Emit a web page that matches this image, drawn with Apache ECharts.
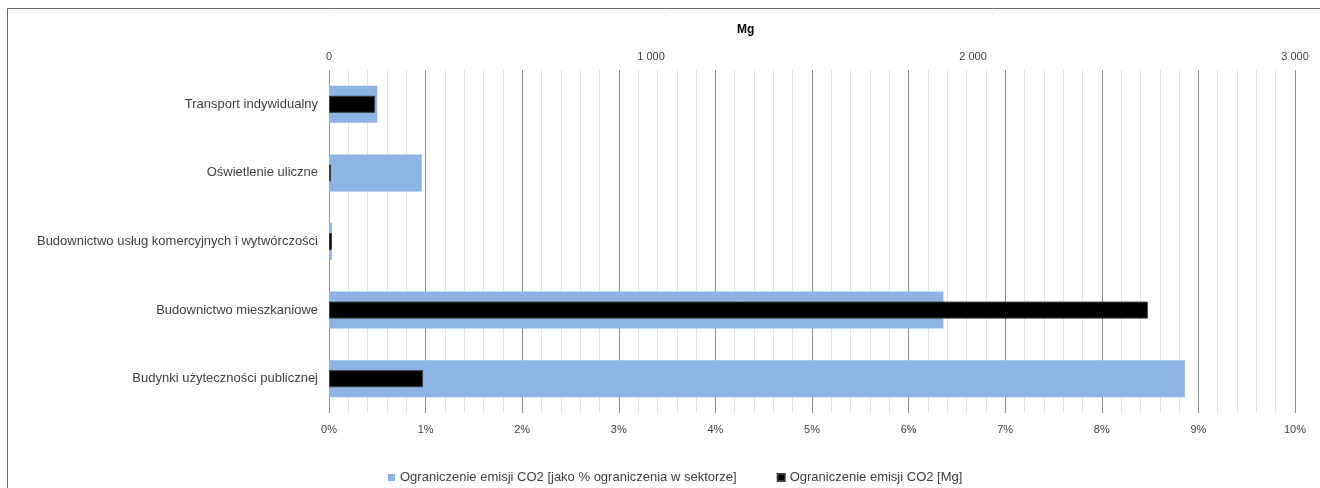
<!DOCTYPE html>
<html>
<head>
<meta charset="utf-8">
<script src="https://cdn.jsdelivr.net/npm/echarts@6/dist/echarts.min.js"></script>
<style>
  html, body { margin: 0; padding: 0; background: #fff; }
  #chart { width: 1320px; height: 488px; }
</style>
</head>
<body>
<div id="chart"></div>
<script>
// Sectors, listed top to bottom
const categories = [
  'Transport indywidualny',
  'Oświetlenie uliczne',
  'Budownictwo usług komercyjnych i wytwórczości',
  'Budownictwo mieszkaniowe',
  'Budynki użyteczności publicznej'
];
// CO2 reduction as % of the sector's reduction
const reductionPct = [0.50, 0.96, 0.03, 6.36, 8.86];
// CO2 reduction in Mg
const reductionMg = [143, 6, 9, 2543, 292];

const pctName = 'Ograniczenie emisji CO2 [jako % ograniczenia w sektorze]';
const mgName = 'Ograniczenie emisji CO2 [Mg]';

const font = 'Liberation Sans, Arial, sans-serif';
const textColor = '#404040';

// thousands separated with a space, e.g. "1 000"
const spaced = v => String(v).replace(/\B(?=(\d{3})+(?!\d))/g, ' ');

const chart = echarts.init(document.getElementById('chart'), null, { renderer: 'canvas' });
chart.setOption({
  animation: false,
  backgroundColor: '#fff',
  graphic: [
    {
      type: 'rect',
      shape: { x: 7.5, y: 8.5, width: 1330, height: 500 },
      style: { fill: 'none', stroke: '#6b6b6b', lineWidth: 1 },
      silent: true
    },
    {
      type: 'text',
      left: 737, top: 24,
      style: { text: 'Mg', font: 'bold 12px ' + font, fill: '#000' },
      silent: true
    }
  ],
  grid: { left: 329, right: 25, top: 70, bottom: 75, containLabel: false },
  legend: {
    data: [pctName, mgName],
    left: 383,
    top: 466,
    icon: 'rect',
    itemWidth: 7,
    itemHeight: 7,
    itemGap: 40,
    textStyle: { fontFamily: font, fontSize: 13, color: textColor }
  },
  xAxis: [
    {
      type: 'value',
      position: 'bottom',
      min: 0, max: 10, interval: 1,
      axisLine: { show: false },
      axisTick: { show: false },
      axisLabel: {
        formatter: v => v + '%',
        fontFamily: font, fontSize: 11, color: textColor, margin: 11
      },
      splitLine: { show: true, lineStyle: { color: '#8c8c8c', width: 1 } },
      minorTick: { show: false, splitNumber: 5 },
      minorSplitLine: { show: true, lineStyle: { color: '#e3e3e3', width: 1 } }
    },
    {
      type: 'value',
      position: 'top',
      min: 0, max: 3000, interval: 1000,
      axisLine: { show: false },
      axisTick: { show: false },
      splitLine: { show: false },
      axisLabel: {
        formatter: spaced,
        fontFamily: font, fontSize: 11, color: textColor, margin: 8
      }
    }
  ],
  yAxis: [
    {
      type: 'category',
      data: categories,
      inverse: true,
      axisLine: { show: false },
      axisTick: { show: false },
      axisLabel: { fontFamily: font, fontSize: 13, color: textColor, margin: 11 }
    },
    {
      type: 'category',
      data: categories,
      inverse: true,
      show: false
    }
  ],
  series: [
    {
      name: pctName,
      type: 'bar',
      xAxisIndex: 0,
      yAxisIndex: 0,
      data: reductionPct,
      barWidth: 37,
      itemStyle: { color: '#8eb4e3' }
    },
    {
      name: mgName,
      type: 'bar',
      xAxisIndex: 1,
      yAxisIndex: 1,
      data: reductionMg,
      barWidth: 17,
      itemStyle: { color: '#000', borderColor: '#3a3a3a', borderWidth: 1 }
    }
  ]
});
</script>
</body>
</html>
